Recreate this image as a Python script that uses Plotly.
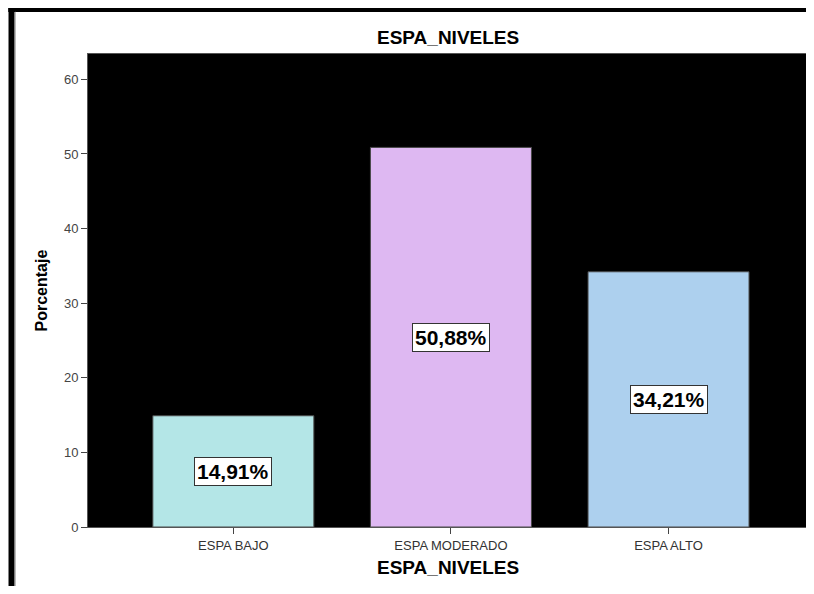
import plotly.graph_objects as go

categories = ['ESPA BAJO', 'ESPA MODERADO', 'ESPA ALTO']
percentages = [14.91, 50.88, 34.21]
bar_colors = ['#B4E6E7', '#DEB8F2', '#ADD0EE']
y_ticks = [0, 10, 20, 30, 40, 50, 60]

FONT = 'Liberation Sans, Arial, sans-serif'

fig = go.Figure()

fig.add_trace(go.Bar(
    x=categories,
    y=percentages,
    width=0.74,
    marker=dict(color=bar_colors, line=dict(color='#4a4a4a', width=1)),
    showlegend=False,
    hoverinfo='skip'
))

# value boxes in the middle of each bar
for cat, val in zip(categories, percentages):
    fig.add_annotation(
        x=cat,
        y=val / 2,
        text=f"{val:.2f}%".replace('.', ','),
        showarrow=False,
        font=dict(family=FONT, size=21, color='black', weight='bold'),
        bgcolor='white',
        bordercolor='#333333',
        borderwidth=1,
        borderpad=2
    )

# chart title and axis titles
fig.add_annotation(
    text='<b>ESPA_NIVELES</b>', xref='paper', yref='paper',
    x=0.496, y=1.0, yshift=17, yanchor='middle', showarrow=False,
    font=dict(family=FONT, size=19, color='black')
)
fig.add_annotation(
    text='<b>ESPA_NIVELES</b>', xref='paper', yref='paper',
    x=0.496, y=0, yshift=-40, yanchor='middle', showarrow=False,
    font=dict(family=FONT, size=19, color='black')
)
fig.add_annotation(
    text='<b>Porcentaje</b>', xref='paper', yref='paper',
    x=0, xshift=-47, y=0.5, textangle=-90, xanchor='center', showarrow=False,
    font=dict(family=FONT, size=16, color='black')
)

# frame lines along top and left edge of the picture
fig.add_shape(type='line', xref='paper', yref='paper',
              x0=-0.11, x1=1.01, y0=1.094, y1=1.094,
              line=dict(color='black', width=5))
fig.add_shape(type='line', xref='paper', yref='paper',
              x0=-0.1055, x1=-0.1055, y0=1.099, y1=-0.2,
              line=dict(color='black', width=6))
fig.add_shape(type='line', xref='paper', yref='paper',
              x0=-0.1, x1=-0.1, y0=1.089, y1=-0.2,
              line=dict(color='#bbbbbb', width=1))

fig.update_xaxes(
    range=[-0.668, 2.664],
    showline=True, linecolor='#555555', linewidth=1,
    mirror=True,
    ticks='outside', ticklen=6, tickcolor='#444444',
    tickfont=dict(family=FONT, size=13, color='#333333'),
    showgrid=False, zeroline=False
)
fig.update_yaxes(
    range=[0, 63.4],
    tickvals=y_ticks,
    showline=True, linecolor='#555555', linewidth=1,
    mirror=True,
    ticks='outside', ticklen=6, tickcolor='#444444',
    tickfont=dict(family=FONT, size=13, color='#444444'),
    showgrid=False, zeroline=False
)

# the page body adds an 8px offset, so the figure is a bit smaller
fig.update_layout(
    width=806,
    height=578,
    margin=dict(l=80, r=1, t=46, b=59),
    plot_bgcolor='black',
    paper_bgcolor='white',
    font=dict(family=FONT)
)

fig.write_html("out.html")
